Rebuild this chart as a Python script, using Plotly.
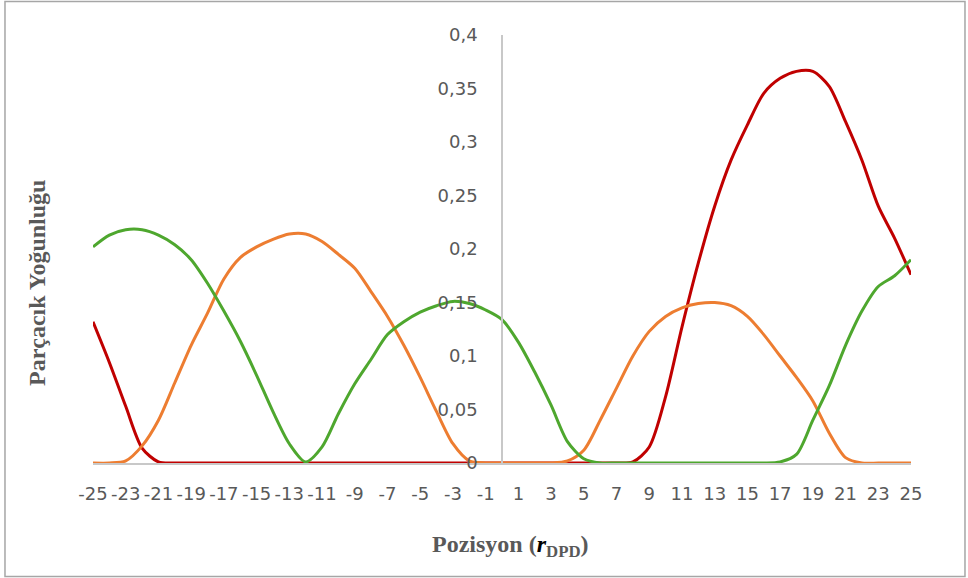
import plotly.graph_objects as go

x_pos = list(range(-25, 26))

red = [0.132, 0.094, 0.053, 0.014, 0.001, 0, 0, 0, 0, 0,
       0, 0, 0, 0, 0, 0, 0, 0, 0, 0,
       0, 0, 0, 0, 0, 0, 0, 0, 0, 0,
       0, 0, 0, 0.001, 0.015, 0.062, 0.127, 0.187, 0.24, 0.283,
       0.316, 0.3455, 0.3595, 0.366, 0.366, 0.352, 0.319, 0.283, 0.24, 0.21,
       0.176]

orange = [0, 0, 0.002, 0.016, 0.04, 0.075, 0.11, 0.14, 0.172, 0.192,
          0.202, 0.209, 0.214, 0.214, 0.207, 0.195, 0.182, 0.16, 0.137, 0.11,
          0.08, 0.048, 0.018, 0.002, 0, 0, 0, 0, 0, 0.002,
          0.012, 0.04, 0.07, 0.1, 0.123, 0.137, 0.145, 0.149, 0.15, 0.147,
          0.137, 0.12, 0.1, 0.08, 0.058, 0.028, 0.005, 0, 0, 0,
          0]

green = [0.202, 0.213, 0.218, 0.218, 0.213, 0.204, 0.19, 0.168, 0.142, 0.114,
         0.082, 0.048, 0.018, 0.001, 0.015, 0.046, 0.074, 0.097, 0.12, 0.132,
         0.141, 0.147, 0.151, 0.149, 0.143, 0.134, 0.113, 0.085, 0.054, 0.02,
         0.004, 0, 0, 0, 0, 0, 0, 0, 0, 0,
         0, 0, 0.001, 0.008, 0.04, 0.072, 0.11, 0.142, 0.165, 0.175,
         0.19]

x_tickvals = list(range(-25, 26, 2))
x_ticktext = [str(v) for v in x_tickvals]
y_tickvals = [0, 0.05, 0.1, 0.15, 0.2, 0.25, 0.3, 0.35, 0.4]
y_ticktext = ["0", "0,05", "0,1", "0,15", "0,2", "0,25", "0,3", "0,35", "0,4"]

series = [("red", red, "#C00000"), ("orange", orange, "#ED7D31"), ("green", green, "#4EA72E")]

fig = go.Figure()
for name, vals, col in series:
    fig.add_trace(go.Scatter(x=x_pos, y=vals, mode="lines", name=name,
                             line=dict(color=col, width=3, shape="spline", smoothing=0.8)))

tick_font = dict(family="DejaVu Sans", size=18, color="#595959")
title_font = dict(family="Liberation Serif", size=24, color="#595959")

fig.update_layout(
    width=968, height=578,
    margin=dict(l=93, r=57, t=35, b=115),
    paper_bgcolor="white", plot_bgcolor="white",
    showlegend=False,
    xaxis=dict(range=[-25, 25], tickvals=x_tickvals, ticktext=x_ticktext,
               showgrid=False, zeroline=False, showline=True, linecolor="#C8C8C8", linewidth=1.5,
               ticks="", tickfont=tick_font, ticklabelstandoff=14),
    yaxis=dict(range=[0, 0.4], tickvals=y_tickvals, ticktext=y_ticktext,
               showgrid=False, zeroline=False, showline=True, linecolor="#C8C8C8", linewidth=1.5,
               anchor="free", position=0.5, ticks="", tickfont=tick_font, ticklabelstandoff=20),
    shapes=[dict(type="rect", xref="paper", yref="paper",
                 x0=-0.1076, x1=1.066, y0=-0.2652, y1=1.0783,
                 line=dict(color="#A6A6A6", width=1.5), layer="below")],
    annotations=[
        dict(text="<b>Parçacık Yoğunluğu</b>", xref="paper", yref="paper",
             x=(37 - 93) / 818, y=(463 - 283) / 428, textangle=-90, showarrow=False,
             font=title_font, xanchor="center", yanchor="middle"),
        dict(text="<b>Pozisyon (<i><span style='color:#000000'>r</span></i><sub>DPD</sub>)</b>",
             xref="paper", yref="paper",
             x=(510 - 93) / 818, y=(463 - 546) / 428, showarrow=False,
             font=title_font, xanchor="center", yanchor="middle"),
    ],
)

fig.write_html("out.html")
